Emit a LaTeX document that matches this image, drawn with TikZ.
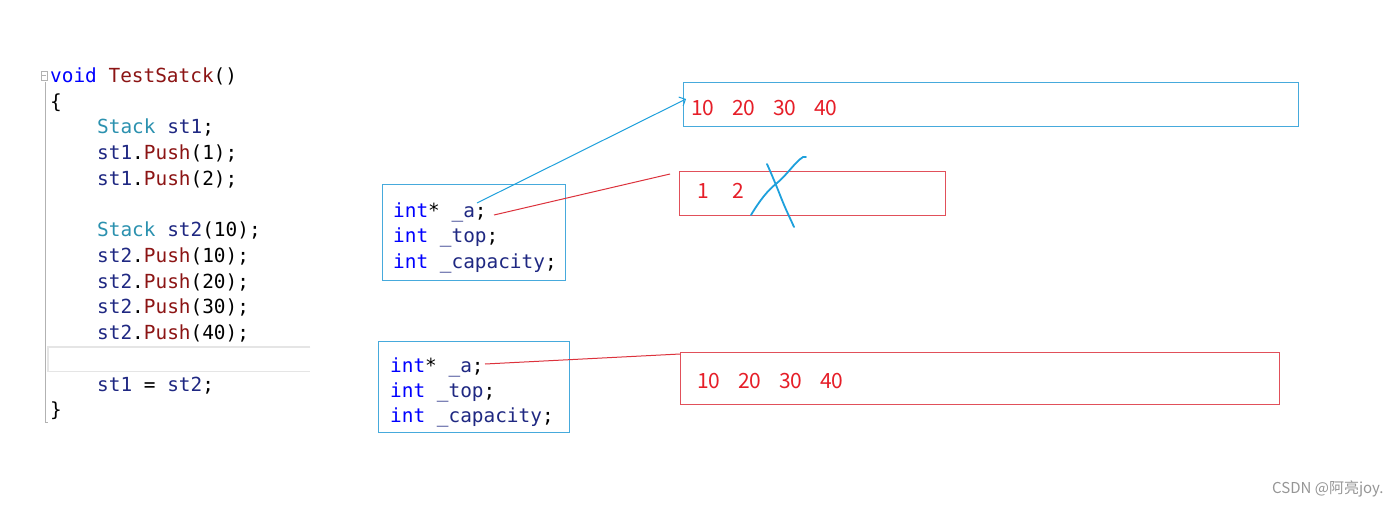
\documentclass[tikz,border=0pt]{standalone}
\usepackage{fontspec}
\setmonofont{DejaVu Sans Mono}
\newfontfamily\numfont{Noto Sans CJK SC}
\usetikzlibrary{arrows.meta}
\definecolor{kw}{RGB}{0,0,255}
\definecolor{fn}{RGB}{140,20,20}
\definecolor{tp}{RGB}{43,145,175}
\definecolor{vr}{RGB}{31,40,130}
\definecolor{boxblue}{RGB}{70,170,220}
\definecolor{boxred}{RGB}{225,80,90}
\definecolor{numred}{RGB}{230,30,40}
\definecolor{penblue}{RGB}{30,160,220}
\definecolor{penred}{RGB}{220,50,60}
\definecolor{wm}{RGB}{150,150,150}
\begin{document}
\begin{tikzpicture}[x=1pt,y=-1pt,
  code/.style={font=\ttfamily\fontsize{19.4}{25}\selectfont, inner sep=0pt, anchor=base west},
  num/.style={font=\numfont\fontsize{21}{25}\selectfont, text=numred, inner sep=0pt, anchor=base west},
  bluebox/.style={draw=boxblue, line width=1.4pt, inner sep=0pt, anchor=north west},
  redbox/.style={draw=boxred, line width=1.4pt, inner sep=0pt, anchor=north west},
  blueline/.style={draw=penblue, line width=1pt},
  redline/.style={draw=penred, line width=1pt},
  penstroke/.style={draw=penblue, line width=1.8pt, line cap=round, line join=round}]
\useasboundingbox[fill=white] (0,0) rectangle (1400,504);

% editor gutter
\draw[gray!60, line width=1pt] (45,82) -- (45,422) -- (48,422);
\draw[gray!60, line width=0.8pt] (41,71) rectangle (47,80);
\draw[gray!60, line width=0.8pt] (42,75.5) -- (46,75.5);
% current-line highlight
\node[inner sep=0pt, anchor=north west, minimum width=262pt, minimum height=24pt] (hl) at (48,347) {};
\draw[gray!20, line width=1.2pt] (hl.north east) -- (hl.north west) -- (hl.south west) -- (hl.south east);

% code
\node[code] (c1)  at (50,82)  {\textcolor{kw}{void} \textcolor{fn}{TestSatck}()};
\node[code] (c2)  at (50,108) {\{};
\node[code] (c3)  at (97,133) {\textcolor{tp}{Stack} \textcolor{vr}{st1};};
\node[code] (c4)  at (97,159) {\textcolor{vr}{st1}.\textcolor{fn}{Push}(1);};
\node[code] (c5)  at (97,185) {\textcolor{vr}{st1}.\textcolor{fn}{Push}(2);};
\node[code] (c6)  at (97,236) {\textcolor{tp}{Stack} \textcolor{vr}{st2}(10);};
\node[code] (c7)  at (97,262) {\textcolor{vr}{st2}.\textcolor{fn}{Push}(10);};
\node[code] (c8)  at (97,288) {\textcolor{vr}{st2}.\textcolor{fn}{Push}(20);};
\node[code] (c9)  at (97,313) {\textcolor{vr}{st2}.\textcolor{fn}{Push}(30);};
\node[code] (c10) at (97,339) {\textcolor{vr}{st2}.\textcolor{fn}{Push}(40);};
\node[code] (c11) at (97,391) {\textcolor{vr}{st1} = \textcolor{vr}{st2};};
\node[code] (c12) at (50,416) {\}};

% struct boxes
\node[bluebox, minimum width=183pt, minimum height=96pt] (s1) at (382,184) {};
\node[code] (s1a) at (393,217) {\textcolor{kw}{int}* \textcolor{vr}{\_a};};
\node[code] (s1b) at (393,242.5) {\textcolor{kw}{int} \textcolor{vr}{\_top};};
\node[code] (s1c) at (393,268) {\textcolor{kw}{int} \textcolor{vr}{\_capacity};};

\node[bluebox, minimum width=191pt, minimum height=91pt] (s2) at (378,341) {};
\node[code] (s2a) at (390,372) {\textcolor{kw}{int}* \textcolor{vr}{\_a};};
\node[code] (s2b) at (390,397) {\textcolor{kw}{int} \textcolor{vr}{\_top};};
\node[code] (s2c) at (390,422.5) {\textcolor{kw}{int} \textcolor{vr}{\_capacity};};

% arrays
\node[bluebox, minimum width=615pt, minimum height=44pt] (arrA) at (683,82) {};
\node[num] (a10) at (691,115) {10};
\node[num] (a20) at (732,115) {20};
\node[num] (a30) at (773,115) {30};
\node[num] (a40) at (814,115) {40};

\node[redbox, minimum width=266pt, minimum height=44pt] (arrB) at (679,171) {};
\node[num] (b1) at (697,198) {1};
\node[num] (b2) at (732,198) {2};

\node[redbox, minimum width=599pt, minimum height=52pt] (arrC) at (680,352) {};
\node[num] (c10n) at (697,388) {10};
\node[num] (c20n) at (738,388) {20};
\node[num] (c30n) at (779,388) {30};
\node[num] (c40n) at (820,388) {40};

% pointers
\coordinate (pA) at (477,203);
\coordinate (tipA) at (686,99);
\draw[blueline, -{Straight Barb[length=5pt,width=10pt]}] (pA) -- (tipA);
\coordinate (pB) at (494,215);
\coordinate (endB) at (670,174);
\draw[redline] (pB) -- (endB);
\coordinate (pC) at (485,364);
\coordinate (endC) at (680,354);
\draw[redline] (pC) -- (endC);

% hand-drawn cross over the old array
\draw[penstroke] (767,164) .. controls (775,182) and (778,190) .. (782,200) .. controls (786,210) and (790,218) .. (794,227);
\draw[penstroke] (751,215) .. controls (760,200) and (768,190) .. (777,183) .. controls (786,176) and (795,162) .. (803,157) -- (806,157);

% watermark
\node[font=\numfont\fontsize{15}{17}\selectfont, text=wm, inner sep=0pt, anchor=base west] (wmk) at (1272,493) {CSDN @阿亮joy.};
\end{tikzpicture}
\end{document}
